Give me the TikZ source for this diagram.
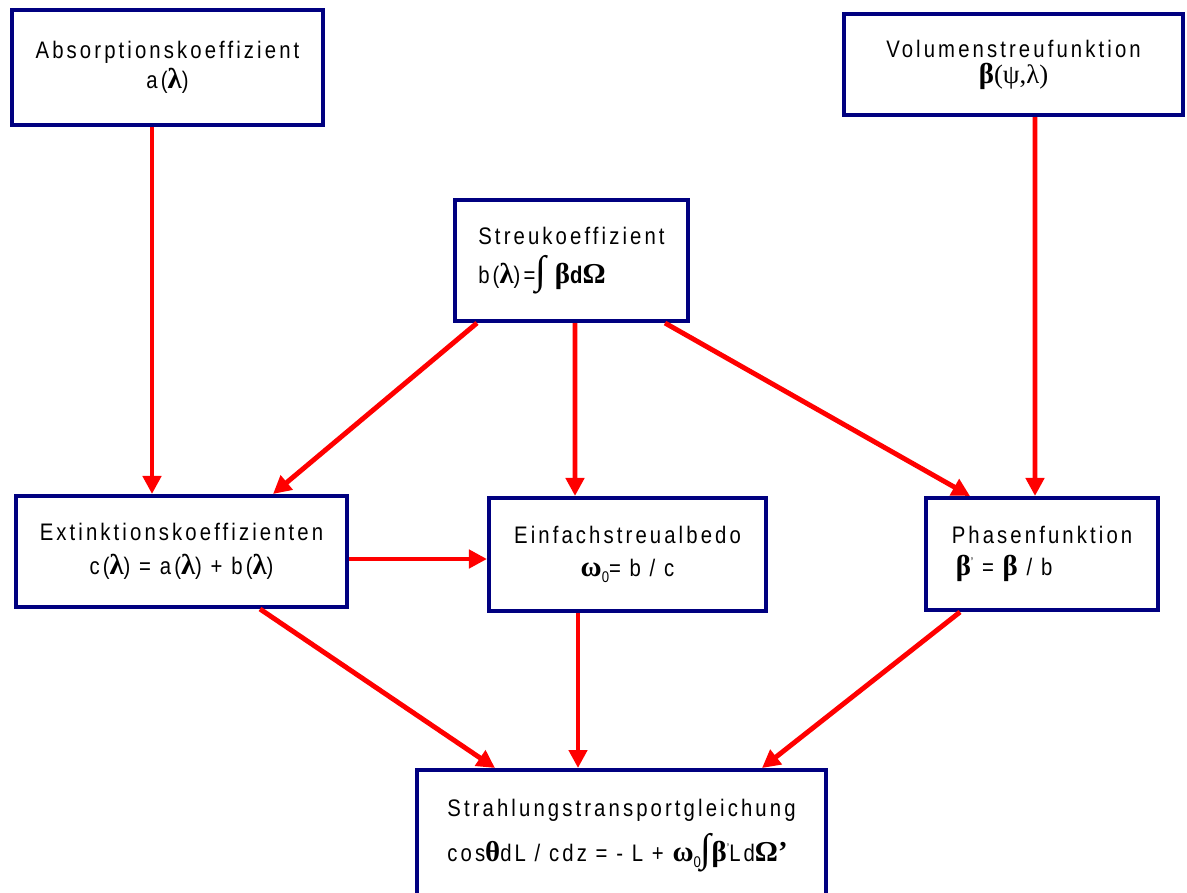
\documentclass[tikz,border=0pt]{standalone}
\usepackage{fontspec}
\setmainfont{Liberation Sans}[FakeStretch=0.85,LetterSpace=13]
\newfontfamily\grk{Liberation Serif}
\usetikzlibrary{arrows.meta,calc}
\definecolor{boxblue}{RGB}{0,0,128}
\definecolor{flowred}{RGB}{255,0,0}
\tikzset{
  >={Triangle[length=12.8pt,width=12.8pt]},
}
\tikzstyle{box}=[draw=boxblue,line width=2.85pt,inner sep=0pt,align=center]
\tikzstyle{flow}=[flowred,line width=3.5pt,->]
\tikzstyle{every node}=[font=\fontsize{17}{21}\selectfont]
\newcommand{\gr}[1]{{\grk\fontsize{19}{21}\selectfont #1}}
\newcommand{\gb}[1]{{\grk\bfseries\fontsize{20.5}{21}\selectfont #1}}
\newcommand{\intg}{{\grk\fontsize{28}{21}\selectfont ∫}}
\newcommand{\sub}[1]{\raisebox{-0.45ex}{\fontsize{11}{11}\selectfont #1}}
\newcommand{\tick}{\raisebox{0.75ex}{\fontsize{9}{9}\selectfont '}}

\begin{document}
\begin{tikzpicture}[x=0.025cm,y=-0.025cm]
    \clip (0,0) rectangle (1187,892);
    \fill[white] (0,0) rectangle (1187,892);
    % boxes
    \node[box,minimum width=7.775cm,minimum height=2.875cm] (abs) at (167.5,67.5)
      {Absorptionskoeffizient\\a(\gb{λ})};
    \node[box,minimum width=8.475cm,minimum height=2.525cm] (vol) at (1013.5,64.5)
      {Volumenstreufunktion\\[-2.5pt]\gb{β}\gr{(ψ,λ)}};
    \node[box,minimum width=5.825cm,minimum height=3.025cm,align=left] (streu) at (571.5,260.5)
      {Streukoeffizient\\[7pt]b(\gb{λ})=\intg\ \gb{β}{\bfseries d}\gb{Ω}};
    \node[box,minimum width=8.275cm,minimum height=2.775cm] (ext) at (181.5,551.5)
      {Extinktionskoeffizienten\\[3pt]c(\gb{λ}) = a(\gb{λ}) + b(\gb{λ})};
    \node[box,minimum width=6.925cm,minimum height=2.825cm] (einf) at (627.5,554.5)
      {Einfachstreualbedo\\[2.5pt]\gb{ω}\sub{0}= b / c};
    \node[box,minimum width=5.8cm,minimum height=2.8cm,align=left] (phase) at (1042,554)
      {Phasenfunktion\\[2pt]\,\gb{β}\tick{} = \gb{β} / b};
    \node[box,anchor=north,minimum width=10.225cm,inner ysep=21pt,text depth=3cm,align=left] (strahl) at (621.5,768)
      {Strahlungstransportgleichung\\[7.5pt]cos\gb{θ}dL / cdz = - L + \gb{ω}\sub{0}\intg\gb{β}\tick{}Ld\gb{Ω}\gb{’}};
    % connectors
    \draw[flow] ($(abs.south)+(-15.5,0)$) -- ($(ext.north)+(-29.5,0)$);
    \draw[flow] ($(vol.south)+(21.5,0)$) -- ($(phase.north)+(-7,0)$);
    \draw[flow] ($(streu.south)+(-94.5,0)$) -- ($(ext.north)+(91.5,0)$);
    \draw[flow] ($(streu.south)+(3.5,0)$) -- ($(einf.north)+(-52.5,0)$);
    \draw[flow] ($(streu.south)+(93.5,0)$) -- ($(phase.north)+(-72,0)$);
    \draw[flow] ($(ext.east)+(0,7.5)$) -- ($(einf.west)+(0,4.5)$);
    \draw[flow] ($(ext.south)+(78.5,0)$) -- ($(strahl.north)+(-126.5,0)$);
    \draw[flow] ($(einf.south)+(-49.5,0)$) -- ($(strahl.north)+(-43.5,0)$);
    \draw[flow] ($(phase.south)+(-82,0)$) -- ($(strahl.north)+(140.5,0)$);
\end{tikzpicture}
\end{document}
